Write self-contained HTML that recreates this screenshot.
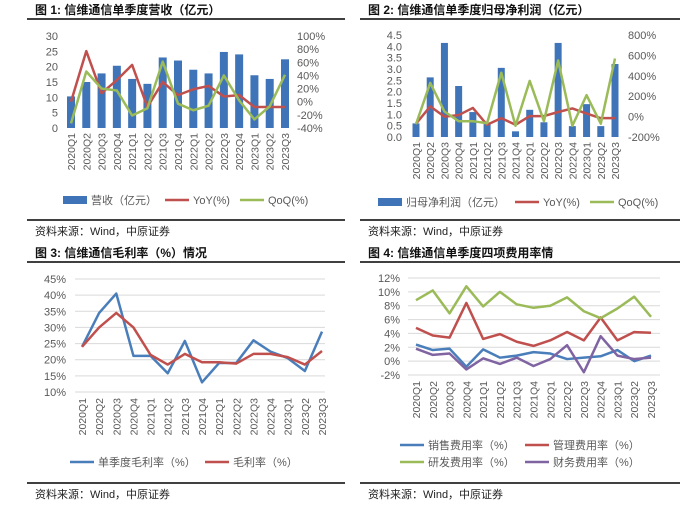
<!DOCTYPE html>
<html><head><meta charset="utf-8"><style>
html,body{margin:0;padding:0;background:#fff;}
svg{display:block;font-family:"Liberation Sans","Noto Sans CJK SC",sans-serif;}
</style></head><body>
<svg id="s" width="700" height="514" xmlns="http://www.w3.org/2000/svg"></svg>
<script>
const cats=["2020Q1","2020Q2","2020Q3","2020Q4","2021Q1","2021Q2","2021Q3","2021Q4","2022Q1","2022Q2","2022Q3","2022Q4","2023Q1","2023Q2","2023Q3"];
const revBars=[10.3,15,17.8,20.3,16,14.4,23,22,19,17.8,24.8,24,17.2,16,22.4];
const revYoY=[0,77,13,33,56,-8,30,10,19,24,8,10,-8,-8,-8];
const revQoQ=[-33,46,20,17,-21,-10,61,-3,-13,-6,40,2,-27,-7,41];
const npBars=[0.6,2.63,4.15,2.25,1.1,0.6,3.05,0.25,1.2,0.65,4.15,0.48,1.45,0.48,3.22];
const npYoY=[-70,100,0,15,85,-80,-15,-80,5,5,45,80,30,-15,-15];
const npQoQ=[-75,330,50,-45,-45,-65,430,-90,350,-45,550,-90,210,-70,570];
const gmSingle=[24,34.5,40.5,21.2,21.2,15.8,25.8,13,19,19,26,22.5,20.5,16.5,28.7];
const gmCum=[24,30,34.5,30,21.5,18.5,21.8,19.2,19.2,18.8,21.8,21.8,20.8,18.5,22.7];
const feeSales=[2.4,1.6,1.8,-0.8,1.7,0.5,0.8,1.3,1.1,0.3,0.5,0.7,1.6,0,0.8];
const feeMgmt=[4.8,3.7,3.4,8.4,3.2,3.9,2.8,2.2,3,4.2,3,6.3,3,4.2,4.1];
const feeRD=[8.8,10.2,6.9,10.8,7.9,10,8.2,7.7,8,9.2,7.2,6.2,7.6,9.3,6.4];
const feeFin=[1.8,0.9,1.1,-1.2,0.4,-0.4,0.5,-0.7,0.3,2.3,-1.6,3.6,0.8,0.3,0.5];
const ticks1L=["0","5","10","15","20","25","30"];
const ticks1R=["-40%","-20%","0%","20%","40%","60%","80%","100%"];
const ticks2L=["0.0","0.5","1.0","1.5","2.0","2.5","3.0","3.5","4.0","4.5"];
const ticks2R=["-200%","0%","200%","400%","600%","800%"];
const ticks3=["10%","15%","20%","25%","30%","35%","40%","45%"];
const ticks4=["-2%","0%","2%","4%","6%","8%","10%","12%"];

const svg=document.getElementById('s');const NS="http://www.w3.org/2000/svg";
function mk(tag,at,txt){const e=document.createElementNS(NS,tag);for(const k in at)e.setAttribute(k,at[k]);if(txt!==undefined)e.textContent=txt;svg.appendChild(e);return e;}
function lin(d0,d1,p0,p1){return v=>p0+(v-d0)*(p1-p0)/(d1-d0);}
function xs(x0,x1){return i=>x0+i*(x1-x0)/(cats.length-1);}
function frame(x1,x2,yt,yb,title,src,nm){
  let e=mk('text',{x:x1+8,y:yt-5,'font-size':12,'font-weight':'bold',fill:'#111'},title);
  
  e=mk('line',{x1:x1,x2:x2,y1:yt,y2:yt,stroke:'#000','stroke-width':1.5});
  
  e=mk('line',{x1:x1,x2:x2,y1:yb,y2:yb,stroke:'#000','stroke-width':1.5});
  
  e=mk('text',{x:x1+8,y:yb+15,'font-size':11,fill:'#222'},src);
  
}
function yticks(vals,labels,sy,x,anchor,nm,grid){
  vals.forEach((v,i)=>{
    if(grid){const g=mk('line',{x1:grid[0],x2:grid[1],y1:sy(v),y2:sy(v),stroke:'#d9d9d9','stroke-width':1});
      }
    const t=mk('text',{x:x,y:sy(v)+4,'font-size':11,fill:'#595959','text-anchor':anchor},labels[i]);
    
  });
}
function xlabels(sx,ytop,nm){
  cats.forEach((c,i)=>{const x=sx(i)+4;
    const t=mk('text',{x:x,y:ytop,'font-size':10.5,fill:'#595959','text-anchor':'end',transform:`rotate(-90 ${x} ${ytop})`},c);
    });
}
function line(vals,sx,sy,col,nm){
  const p=mk('polyline',{points:vals.map((v,i)=>sx(i)+','+sy(v)).join(' '),fill:'none',stroke:col,'stroke-width':2.5,'stroke-linejoin':'round'});
  
}
function bars(vals,sx,sy,w,col,nm){
  vals.forEach((v,i)=>{const r=mk('rect',{x:sx(i)-w/2,y:sy(v),width:w,height:sy(0)-sy(v),fill:col});
    });
}
function leg(x,y,col,label,nm,isBar){
  let e=isBar?mk('rect',{x:x,y:y-4,width:24,height:8,fill:col}):mk('line',{x1:x,x2:x+24,y1:y,y2:y,stroke:col,'stroke-width':2.5});
  
  e=mk('text',{x:x+28,y:y+4,'font-size':11,fill:'#595959'},label);
  
}
const BLUE='#4a7ebb',RED='#c0504d',GREEN='#9bbb59',PURPLE='#8064a2';
// Panel 1
frame(27,345,19,220,"图 1: 信维通信单季度营收（亿元）","资料来源：Wind，中原证券","chart1");
let sx=xs(71,285),sy=lin(0,30,128,36),sr=lin(-40,100,128,36);
yticks([0,5,10,15,20,25,30],ticks1L,sy,58,'end','chart1-left');
yticks([-40,-20,0,20,40,60,80,100],ticks1R,sr,297,'start','chart1-right');
bars(revBars,sx,sy,8,'#3f75b8','chart1-revenue-bar');
line(revYoY,sx,sr,RED,'chart1-yoy-line');line(revQoQ,sx,sr,GREEN,'chart1-qoq-line');
xlabels(sx,133,'chart1');
leg(63,200,'#3f75b8','营收（亿元）','chart1-legend-revenue',true);
leg(165,200,RED,'YoY(%)','chart1-legend-yoy');leg(240,200,GREEN,'QoQ(%)','chart1-legend-qoq');
// Panel 2
frame(360,680,19,220,"图 2: 信维通信单季度归母净利润（亿元）","资料来源：Wind，中原证券","chart2");
sx=xs(416,615);sy=lin(0,4.5,137,35);sr=lin(-200,800,137,35);
yticks([0,.5,1,1.5,2,2.5,3,3.5,4,4.5],ticks2L,sy,402,'end','chart2-left');
yticks([-200,0,200,400,600,800],ticks2R,sr,628,'start','chart2-right');
bars(npBars,sx,sy,7,'#3f75b8','chart2-profit-bar');
line(npYoY,sx,sr,RED,'chart2-yoy-line');line(npQoQ,sx,sr,GREEN,'chart2-qoq-line');
xlabels(sx,142,'chart2');
leg(378,202,'#3f75b8','归母净利润（亿元）','chart2-legend-profit',true);
leg(515,202,RED,'YoY(%)','chart2-legend-yoy');leg(590,202,GREEN,'QoQ(%)','chart2-legend-qoq');
// Panel 3
frame(27,345,262,483,"图 3: 信维通信毛利率（%）情况","资料来源：Wind，中原证券","chart3");
sx=xs(82,322);sy=lin(10,45,392,279);
yticks([10,15,20,25,30,35,40,45],ticks3,sy,66,'end','chart3-y',[75,325]);
line(gmSingle,sx,sy,BLUE,'chart3-single-quarter-line');line(gmCum,sx,sy,RED,'chart3-cumulative-line');
xlabels(sx,398,'chart3');
leg(70,462,BLUE,'单季度毛利率（%）','chart3-legend-single');leg(205,462,RED,'毛利率（%）','chart3-legend-cumulative');
// Panel 4
frame(360,680,262,483,"图 4: 信维通信单季度四项费用率情","资料来源：Wind，中原证券","chart4");
sx=xs(416,651);sy=lin(-2,12,375,278);
yticks([-2,0,2,4,6,8,10,12],ticks4,sy,400,'end','chart4-y',[408,660]);
line(feeSales,sx,sy,BLUE,'chart4-sales-line');line(feeMgmt,sx,sy,RED,'chart4-admin-line');
line(feeRD,sx,sy,GREEN,'chart4-rd-line');line(feeFin,sx,sy,PURPLE,'chart4-finance-line');
xlabels(sx,381,'chart4');
leg(400,445,BLUE,'销售费用率（%）','chart4-legend-sales');leg(525,445,RED,'管理费用率（%）','chart4-legend-admin');
leg(400,462,GREEN,'研发费用率（%）','chart4-legend-rd');leg(525,462,PURPLE,'财务费用率（%）','chart4-legend-finance');
</script>
</body></html>
